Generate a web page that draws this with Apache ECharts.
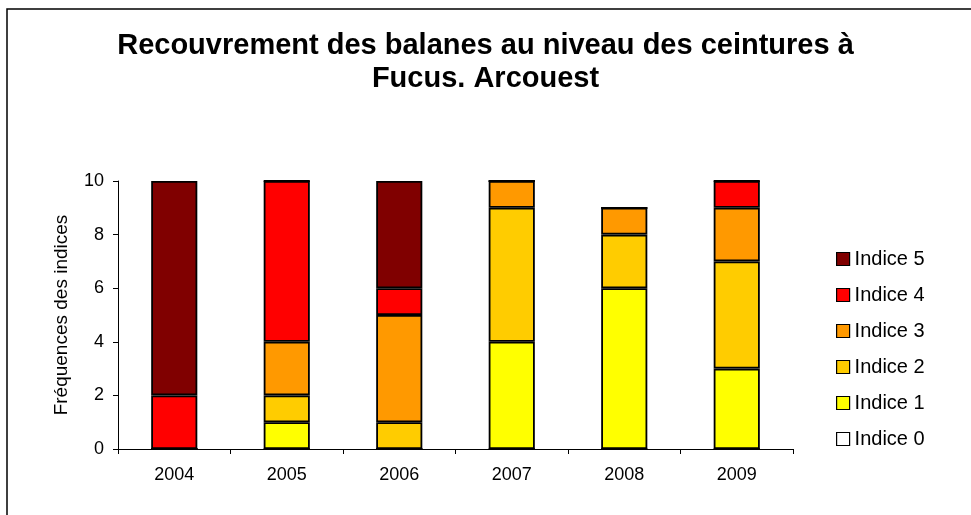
<!DOCTYPE html>
<html>
<head>
<meta charset="utf-8">
<script src="https://cdn.jsdelivr.net/npm/echarts@6/dist/echarts.min.js"></script>
<style>
  html, body { margin: 0; padding: 0; background: #fff; }
  #chart { width: 971px; height: 515px; }
</style>
</head>
<body>
<div id="chart"></div>
<script>
// années et valeurs (nombre de relevés par indice)
const years = ['2004', '2005', '2006', '2007', '2008', '2009'];
const indice0 = [0, 0, 0, 0, 0, 0];
const indice1 = [0, 1, 0, 4, 6, 3];
const indice2 = [0, 1, 1, 5, 2, 4];
const indice3 = [0, 2, 4, 1, 1, 2];
const indice4 = [2, 6, 1, 0, 0, 1];
const indice5 = [8, 0, 4, 0, 0, 0];
const yTicks = [0, 2, 4, 6, 8, 10];

const seriesDefs = [
    { name: 'Indice 0', data: indice0, color: '#FFFFFF' },
    { name: 'Indice 1', data: indice1, color: '#FFFF00' },
    { name: 'Indice 2', data: indice2, color: '#FFCC00' },
    { name: 'Indice 3', data: indice3, color: '#FF9900' },
    { name: 'Indice 4', data: indice4, color: '#FF0000' },
    { name: 'Indice 5', data: indice5, color: '#800000' }
];

const chart = echarts.init(document.getElementById('chart'));
const font = 'Liberation Sans, Arial, sans-serif';

chart.setOption({
    animation: false,
    textStyle: { fontFamily: font },
    title: {
        text: 'Recouvrement des balanes au niveau des ceintures à\nFucus. Arcouest',
        left: 'center',
        top: 24,
        textStyle: { fontSize: 29, fontWeight: 'bold', color: '#000', lineHeight: 33, fontFamily: font }
    },
    graphic: [{
        type: 'rect',
        shape: { x: 7, y: 9, width: 1000, height: 540 },
        style: { fill: 'none', stroke: '#000', lineWidth: 1.5 },
        silent: true
    }],
    legend: {
        orient: 'vertical',
        left: 831,
        top: 244,
        itemWidth: 13,
        itemHeight: 13,
        itemGap: 16,
        icon: 'rect',
        data: seriesDefs.map(s => s.name).reverse(),
        textStyle: { fontSize: 20, color: '#000', fontFamily: font },
        itemStyle: { borderColor: '#000', borderWidth: 1.2 }
    },
    grid: { left: 118, top: 181, width: 675, height: 268 },
    xAxis: {
        type: 'category',
        data: years,
        axisLine: { lineStyle: { color: '#000', width: 1 } },
        axisTick: { show: true, alignWithLabel: false, length: 5, lineStyle: { color: '#000' } },
        axisLabel: { fontSize: 18, color: '#000', margin: 17 }
    },
    yAxis: {
        type: 'value',
        min: yTicks[0],
        max: yTicks[yTicks.length - 1],
        interval: 2,
        name: 'Fréquences des indices',
        nameLocation: 'middle',
        nameGap: 47,
        nameTextStyle: { fontSize: 19, color: '#000' },
        splitLine: { show: false },
        axisLine: { show: true, lineStyle: { color: '#000', width: 1 } },
        axisTick: { show: true, inside: false, length: 5, lineStyle: { color: '#000' } },
        axisLabel: { fontSize: 18, color: '#000', margin: 14 }
    },
    series: seriesDefs.map(s => ({
        name: s.name,
        type: 'bar',
        stack: 'total',
        data: s.data,
        barWidth: '41%',
        itemStyle: { color: s.color, borderColor: '#000', borderWidth: 1.8 }
    }))
});
</script>
</body>
</html>
